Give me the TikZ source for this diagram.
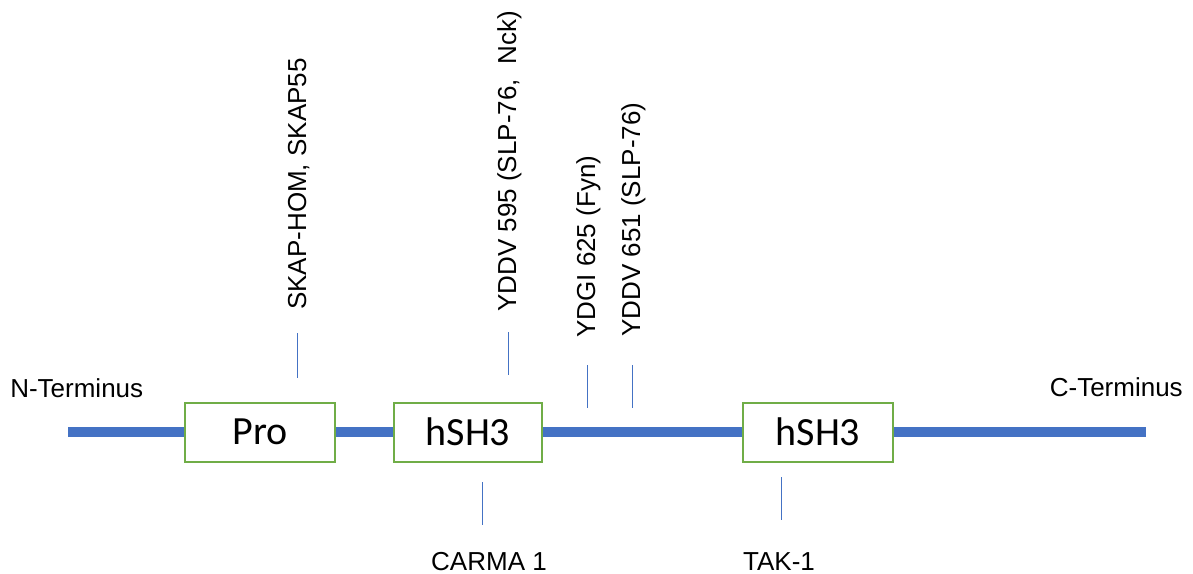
\documentclass[tikz,border=0pt]{standalone}
\usepackage{fontspec}
\setmainfont{Liberation Sans}
\newfontfamily\boxfont{Carlito}
\definecolor{chainblue}{HTML}{4472C4}
\definecolor{boxgreen}{HTML}{70AD47}
\begin{document}
\begin{tikzpicture}[x=0.75pt,y=-0.75pt,
  dombox/.style={draw=boxgreen,line width=1.5pt,fill=white,
    inner sep=0pt,font=\boxfont\fontsize{30}{36}\selectfont},
  chainline/.style={draw=chainblue,line width=7.5pt},
  tickline/.style={draw=chainblue,line width=0.75pt},
  lbl/.style={font=\fontsize{19.5}{23}\selectfont,inner sep=0pt},
  vlbl/.style={lbl,rotate=90,anchor=base west}]
\useasboundingbox (0,0) rectangle (1193,574);
% domains
\node[dombox,minimum width=112.5pt,minimum height=44.25pt] (pro) at (260,432) {Pro};
\node[dombox,minimum width=111pt,minimum height=44.25pt] (sh1) at (468,432) {hSH3};
\node[dombox,minimum width=112.5pt,minimum height=44.25pt] (sh2) at (818,432) {hSH3};
% chain ends
\coordinate (nend) at (68,432);
\coordinate (cend) at (1146,432);
\draw[chainline] (nend) -- (pro.west);
\draw[chainline] (pro.east) -- (sh1.west);
\draw[chainline] (sh1.east) -- (sh2.west);
\draw[chainline] (sh2.east) -- (cend);
% terminus labels
\node[lbl,anchor=base west] (nterm) at (10,397) {N-Terminus};
\node[lbl,anchor=base east] (cterm) at (1183,396) {C-Terminus};
% upper labels
\node[vlbl] (skap) at (306,310) {SKAP-HOM, SKAP55};
\node[vlbl] (y595) at (516,312) {YDDV 595 (SLP-76,\ \ Nck)};
\node[vlbl] (y625) at (595,338) {YDGI 625 (Fyn)};
\node[vlbl] (y651) at (640,337) {YDDV 651 (SLP-76)};
\coordinate (skapA) at (297,333); \coordinate (skapB) at (297,378);
\coordinate (y595A) at (508,332); \coordinate (y595B) at (508,375);
\coordinate (y625A) at (587,365); \coordinate (y625B) at (587,408);
\coordinate (y651A) at (632,365); \coordinate (y651B) at (632,408);
\draw[tickline] (skapA) -- (skapB);
\draw[tickline] (y595A) -- (y595B);
\draw[tickline] (y625A) -- (y625B);
\draw[tickline] (y651A) -- (y651B);
% lower labels
\node[lbl,anchor=base] (carma) at (489,570) {CARMA 1};
\node[lbl,anchor=base] (tak) at (779,570) {TAK-1};
\coordinate (carmaA) at (482,482); \coordinate (carmaB) at (482,525);
\coordinate (takA) at (781,477); \coordinate (takB) at (781,520);
\draw[tickline] (carmaA) -- (carmaB);
\draw[tickline] (takA) -- (takB);
\end{tikzpicture}
\end{document}
